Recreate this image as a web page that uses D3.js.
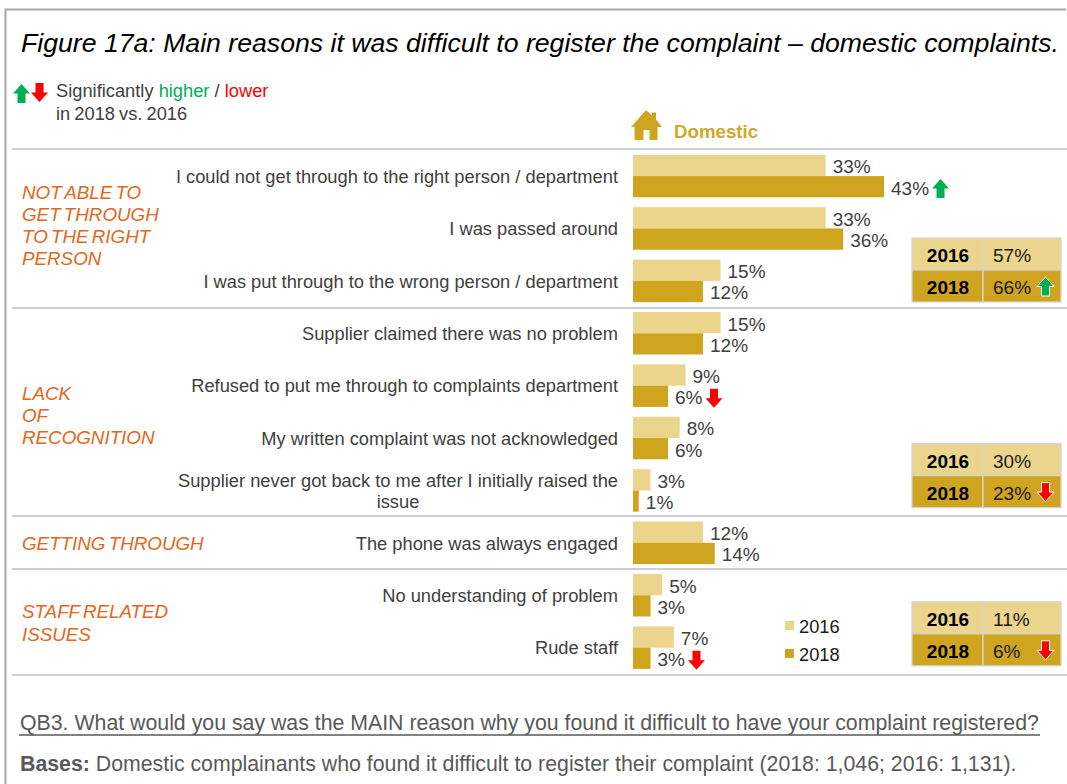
<!DOCTYPE html>
<html>
<head>
<meta charset="utf-8">
<script src="https://cdnjs.cloudflare.com/ajax/libs/d3/7.8.5/d3.min.js"></script>
<style>
  html, body { margin: 0; padding: 0; background: #fff; }
  svg { display: block; font-family: "Liberation Sans", Arial, sans-serif; }
</style>
</head>
<body>
<div id="chart"></div>
<script>
var categories = [
  'I could not get through to the right person / department',
  'I was passed around',
  'I was put through to the wrong person / department',
  'Supplier claimed there was no problem',
  'Refused to put me through to complaints department',
  'My written complaint was not acknowledged',
  'Supplier never got back to me after I initially raised the issue',
  'The phone was always engaged',
  'No understanding of problem',
  'Rude staff'
];
var years = ['2016', '2018'];
var values2016 = [33, 33, 15, 15, 9, 8, 3, 12, 5, 7];
var values2018 = [43, 36, 12, 12, 6, 6, 1, 14, 3, 3];
var flags2018 = ['up', '', '', '', 'down', '', '', '', '', 'down'];

var groupNames = [
  ['NOT ABLE TO', 'GET THROUGH', 'TO THE RIGHT', 'PERSON'],
  ['LACK', 'OF', 'RECOGNITION'],
  ['GETTING THROUGH'],
  ['STAFF RELATED', 'ISSUES']
];
var groupFirstRow = [0, 3, 7, 8];
var groupLastRow = [2, 6, 7, 9];

var summary2016 = [57, 30, null, 11];
var summary2018 = [66, 23, null, 6];
var summaryFlags = ['up', 'down', '', 'down'];

var colors = { '2016': '#ebd58c', '2018': '#cfa520' };
var width = 1067, height = 784;
var textGrey = '#404040', ruleGrey = '#bfbfbf';

var svg = d3.select('#chart').append('svg').attr('width', width).attr('height', height);

// Frame
svg.append('path').attr('d', 'M5.5,784V9.5H1066').attr('fill', 'none').attr('stroke', '#a6a6a6').attr('stroke-width', 2);

// Title
svg.append('text').attr('x', 21).attr('y', 52).attr('font-size', 26.65).attr('font-style', 'italic').attr('fill', '#000')
  .text('Figure 17a: Main reasons it was difficult to register the complaint \u2013 domestic complaints.');

function arrow(parent, x, y, dir, outline) {
  // x,y = top left of a 17x19 box
  var d = dir === 'up' ? 'M8.5,0L17,9.5H12.5V19H4.5V9.5H0Z' : 'M4.5,0H12.5V9.5H17L8.5,19L0,9.5H4.5Z';
  parent.append('path').attr('transform', 'translate(' + x + ',' + y + ')').attr('d', d)
    .attr('fill', dir === 'up' ? '#00b050' : '#ff0000')
    .attr('stroke', outline ? '#fff' : 'none').attr('stroke-width', outline ? 1 : 0);
}

// Significance key
arrow(svg, 13, 84, 'up');
arrow(svg, 31, 83, 'down');
var key = svg.append('text').attr('x', 56).attr('y', 97).attr('font-size', 18.3).attr('fill', textGrey);
key.append('tspan').text('Significantly ');
key.append('tspan').attr('fill', '#00b050').text('higher');
key.append('tspan').text(' / ');
key.append('tspan').attr('fill', '#ff0000').text('lower');
svg.append('text').attr('x', 56).attr('y', 120).attr('font-size', 18.3).attr('word-spacing', -1).attr('fill', textGrey).text('in 2018 vs. 2016');

// Domestic header with house icon
svg.append('path').attr('transform', 'translate(631,110)')
  .attr('d', 'M15,0L21,5.5V2.5H25V9.5L31,17H26.5V30H18.5V20H12.5V30H3.5V17H0Z').attr('fill', colors['2018']);
svg.append('text').attr('x', 674).attr('y', 138).attr('font-size', 18.7).attr('font-weight', 'bold').attr('fill', '#d1a827').text('Domestic');

// Scales
var x = d3.scaleLinear().domain([0, 43]).range([633, 884]);
var y = d3.scaleBand().domain(categories).range([149.8, 673.8]);
var yInner = d3.scaleBand().domain(years).range([5, 47.5]);

// Section rules
var ruleYs = [149, 308, 516, 569, 675];
svg.selectAll('line.rule').data(ruleYs).enter().append('line').attr('class', 'rule')
  .attr('x1', 12).attr('x2', 1067).attr('y1', function (d) { return d; }).attr('y2', function (d) { return d; })
  .attr('stroke', ruleGrey).attr('stroke-width', 1.3);

// Category labels
var axis = svg.append('g').attr('transform', 'translate(618,1)')
  .call(d3.axisLeft(y).tickSize(0).tickPadding(0));
axis.select('.domain').remove();
axis.selectAll('text').attr('font-size', 18.3).attr('font-family', 'inherit').attr('fill', textGrey)
  .each(function (d) {
    // long labels wrap to two lines, second line centred under the first
    var t = d3.select(this);
    if (this.getComputedTextLength() <= 445) return;
    var words = d.split(' ');
    var last = words.pop();
    t.text(words.join(' '));
    var w1 = this.getComputedTextLength();
    t.text(null);
    t.append('tspan').attr('x', 0).attr('dy', '-0.25em').text(words.join(' '));
    var t2 = t.append('tspan').attr('dy', '1.15em').text(last);
    var w2 = t2.node().getComputedTextLength();
    t2.attr('x', -(w1 - w2) / 2);
  });

// Bars and value labels
var rows = categories.map(function (c, i) {
  return { cat: c, flag: flags2018[i], vals: [
    { year: '2016', v: values2016[i] },
    { year: '2018', v: values2018[i] }
  ] };
});
var row = svg.selectAll('g.row').data(rows).enter().append('g').attr('class', 'row')
  .attr('transform', function (d) { return 'translate(0,' + y(d.cat) + ')'; });
row.selectAll('rect').data(function (d) { return d.vals; }).enter().append('rect')
  .attr('x', x(0))
  .attr('y', function (d) { return yInner(d.year); })
  .attr('width', function (d) { return x(d.v) - x(0); })
  .attr('height', yInner.bandwidth())
  .attr('fill', function (d) { return colors[d.year]; });
row.each(function (r) {
  var g = d3.select(this);
  r.vals.forEach(function (d) {
    var label = g.append('text')
      .attr('x', x(d.v) + 7)
      .attr('y', yInner(d.year) + yInner.bandwidth() / 2 + 8)
      .attr('font-size', 19).attr('fill', textGrey).text(d.v + '%');
    if (d.year === '2018' && r.flag) {
      arrow(g, x(d.v) + 6 + label.node().getComputedTextLength() + 4, yInner(d.year) + 3, r.flag);
    }
  });
});

// Group labels
var groupShift = [-2, 4, 1, 2];
groupNames.forEach(function (lines, i) {
  var mid = (y(categories[groupFirstRow[i]]) + y(categories[groupLastRow[i]]) + y.bandwidth()) / 2 + groupShift[i];
  var lh = i === 3 ? 23 : 22;
  var t = svg.append('text').attr('font-size', 18.8).attr('font-style', 'italic').attr('fill', '#e2671b')
    .attr('word-spacing', -2);
  lines.forEach(function (l, j) {
    t.append('tspan').attr('x', 22).attr('y', mid + 6 + (j - (lines.length - 1) / 2) * lh).text(l);
  });
});

// Group summary boxes
var boxShift = [3, -1, 0, 0];
groupNames.forEach(function (lines, i) {
  if (summary2016[i] == null) return;
  var bottom = y(categories[groupLastRow[i]]) + y.bandwidth() - 8 + boxShift[i];
  var g = svg.append('g').attr('transform', 'translate(912,' + (bottom - 64) + ')');
  years.forEach(function (yr, k) {
    var val = k === 0 ? summary2016[i] : summary2018[i];
    g.append('rect').attr('x', 0).attr('y', k * 32).attr('width', 71).attr('height', 32)
      .attr('fill', colors[yr]).attr('stroke', '#d4d4d4').attr('stroke-width', 1.3);
    g.append('rect').attr('x', 71).attr('y', k * 32).attr('width', 78).attr('height', 32)
      .attr('fill', colors[yr]).attr('stroke', '#d4d4d4').attr('stroke-width', 1.3);
    g.append('text').attr('x', 36).attr('y', k * 32 + 24).attr('text-anchor', 'middle')
      .attr('font-size', 19).attr('font-weight', 'bold').attr('fill', '#000').text(yr);
    g.append('text').attr('x', 81).attr('y', k * 32 + 24)
      .attr('font-size', 19).attr('fill', '#1a1a1a').text(val + '%');
  });
  arrow(g, 125, 39, summaryFlags[i], true);
});

// Legend
years.forEach(function (yr, k) {
  svg.append('rect').attr('x', 785).attr('y', 621 + k * 28).attr('width', 9).attr('height', 9).attr('fill', colors[yr]);
  svg.append('text').attr('x', 799).attr('y', 633 + k * 28).attr('font-size', 18.3).attr('fill', '#1a1a1a').text(yr);
});

// Footer
svg.append('text').attr('x', 20).attr('y', 730).attr('font-size', 21.3).attr('fill', '#595959')
  .text('QB3. What would you say was the MAIN reason why you found it difficult to have your complaint registered?');
svg.append('line').attr('x1', 19).attr('x2', 1040).attr('y1', 735).attr('y2', 735).attr('stroke', '#595959').attr('stroke-width', 1.5);
var bases = svg.append('text').attr('x', 20).attr('y', 771).attr('font-size', 21.3).attr('fill', '#595959');
bases.append('tspan').attr('font-weight', 'bold').text('Bases:');
bases.append('tspan').text(' Domestic complainants who found it difficult to register their complaint (2018: 1,046; 2016: 1,131).');
</script>
</body>
</html>
